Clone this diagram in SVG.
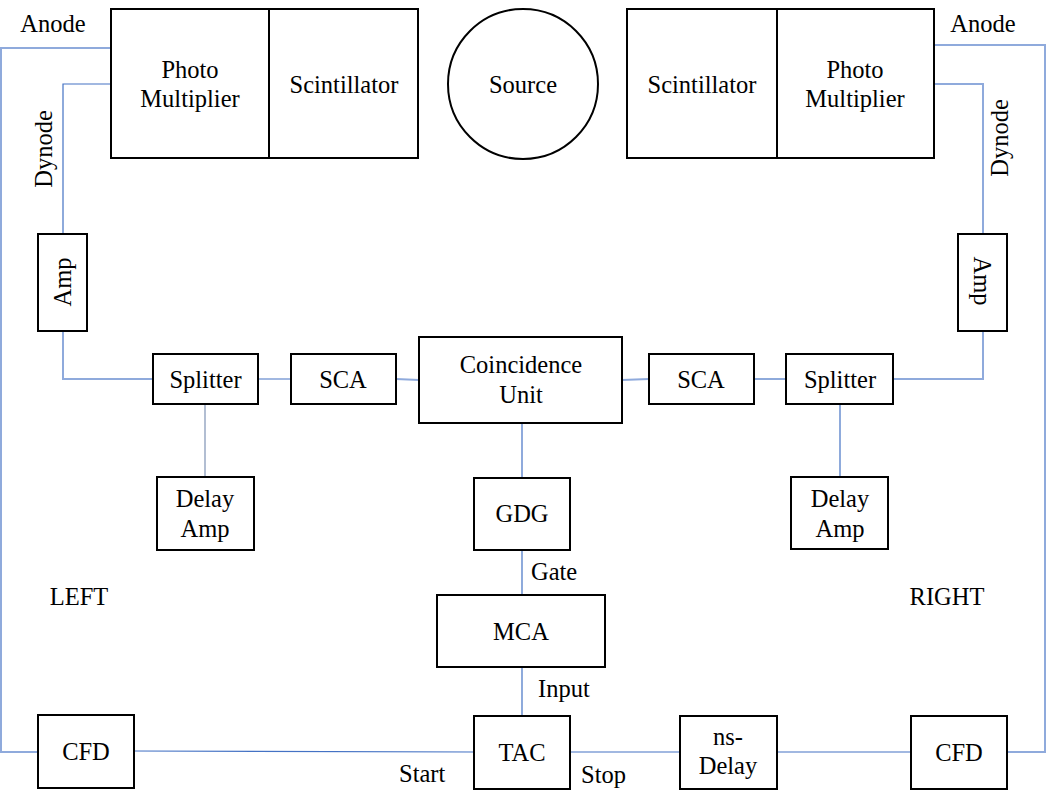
<svg xmlns="http://www.w3.org/2000/svg" width="1046" height="805" viewBox="0 0 1046 805">
<style>
.box{fill:#fff;stroke:#000;stroke-width:2}
text{font-family:'Liberation Serif','DejaVu Serif',serif;font-size:24.5px;fill:#000}
.t{text-anchor:middle}
.c{fill:none;stroke:#4472C4;stroke-width:1.2}
.cl{fill:none;stroke:#8FAADC;stroke-width:2}
.cg{fill:none;stroke:#7F93B5;stroke-width:1.2}
</style>
<rect width="1046" height="805" fill="#fff"/>
<g id="connectors">
<polyline class="cl" points="111,48 1,48 1,752 38,752"/>
<polyline class="c" points="111,84 63,84 63,234"/>
<polyline class="cl" points="63,331 63,379 153,379"/>
<line class="c" x1="258" y1="379" x2="291" y2="379"/>
<line class="cl" x1="396" y1="379" x2="419" y2="380"/>
<line class="cg" x1="205" y1="404" x2="205" y2="477"/>
<line class="cl" x1="522" y1="423" x2="522" y2="478"/>
<line class="c" x1="522" y1="550" x2="522" y2="595"/>
<line class="c" x1="522" y1="667" x2="522" y2="716"/>
<line class="c" x1="134" y1="751" x2="474" y2="752"/>
<line class="c" x1="570" y1="752" x2="680" y2="752"/>
<line class="c" x1="777" y1="752" x2="911" y2="752"/>
<polyline class="cl" points="934,45 1045,45 1045,752 1007,752"/>
<polyline class="cl" points="934,84 983,84 983,234"/>
<polyline class="cl" points="983,331 983,379 893,379"/>
<line class="c" x1="754" y1="379" x2="786" y2="379"/>
<line class="cl" x1="622" y1="380" x2="649" y2="379"/>
<line class="c" x1="840" y1="404" x2="840" y2="477"/>
</g>
<g id="pmt-left"><rect class="box" x="111" y="9" width="158" height="149"/><text class="t" x="190" y="78">Photo</text><text class="t" x="190" y="107">Multiplier</text></g>
<g id="scint-left"><rect class="box" x="269" y="9" width="149" height="149"/><text class="t" x="344" y="93">Scintillator</text></g>
<g id="source"><circle cx="523" cy="84" r="75" fill="#fff" stroke="#000" stroke-width="2"/><text class="t" x="523" y="93">Source</text></g>
<g id="scint-right"><rect class="box" x="627" y="9" width="150" height="149"/><text class="t" x="702" y="93">Scintillator</text></g>
<g id="pmt-right"><rect class="box" x="777" y="9" width="157" height="149"/><text class="t" x="855" y="78">Photo</text><text class="t" x="855" y="107">Multiplier</text></g>
<g id="amp-left"><rect class="box" x="38" y="234" width="49" height="97"/><text class="t" transform="translate(71,282) rotate(-90)">Amp</text></g>
<g id="amp-right"><rect class="box" x="958" y="234" width="49" height="97"/><text class="t" transform="translate(974,281) rotate(90)">Amp</text></g>
<g id="splitter-left"><rect class="box" x="153" y="354" width="105" height="50"/><text class="t" x="205.5" y="388">Splitter</text></g>
<g id="sca-left"><rect class="box" x="291" y="354" width="105" height="50"/><text class="t" x="343" y="388">SCA</text></g>
<g id="coincidence"><rect class="box" x="419" y="337" width="203" height="86"/><text class="t" x="521" y="373">Coincidence</text><text class="t" x="521" y="403">Unit</text></g>
<g id="sca-right"><rect class="box" x="649" y="354" width="105" height="50"/><text class="t" x="701" y="388">SCA</text></g>
<g id="splitter-right"><rect class="box" x="786" y="354" width="107" height="50"/><text class="t" x="840" y="388">Splitter</text></g>
<g id="delayamp-left"><rect class="box" x="157" y="477" width="97" height="73"/><text class="t" x="205" y="507">Delay</text><text class="t" x="205" y="537">Amp</text></g>
<g id="gdg"><rect class="box" x="474" y="478" width="96" height="72"/><text class="t" x="522" y="522">GDG</text></g>
<g id="delayamp-right"><rect class="box" x="791" y="477" width="97" height="72"/><text class="t" x="840" y="507">Delay</text><text class="t" x="840" y="537">Amp</text></g>
<g id="mca"><rect class="box" x="437" y="595" width="168" height="72"/><text class="t" x="521" y="640">MCA</text></g>
<g id="tac"><rect class="box" x="474" y="716" width="96" height="73"/><text class="t" x="522" y="761">TAC</text></g>
<g id="nsdelay"><rect class="box" x="680" y="716" width="97" height="73"/><text class="t" x="728" y="745">ns-</text><text class="t" x="728" y="774">Delay</text></g>
<g id="cfd-left"><rect class="box" x="38" y="715" width="96" height="73"/><text class="t" x="86" y="760">CFD</text></g>
<g id="cfd-right"><rect class="box" x="911" y="716" width="96" height="73"/><text class="t" x="959" y="761">CFD</text></g>
<g id="labels">
<text class="t" x="53" y="32">Anode</text>
<text class="t" x="983" y="32">Anode</text>
<text class="t" transform="translate(52,149) rotate(-90)">Dynode</text>
<text class="t" transform="translate(1008,138) rotate(-90)">Dynode</text>
<text class="t" x="79" y="605">LEFT</text>
<text class="t" x="947" y="605">RIGHT</text>
<text x="531" y="580">Gate</text>
<text x="538" y="697">Input</text>
<text x="399" y="782">Start</text>
<text x="581" y="783">Stop</text>
</g>
</svg>
